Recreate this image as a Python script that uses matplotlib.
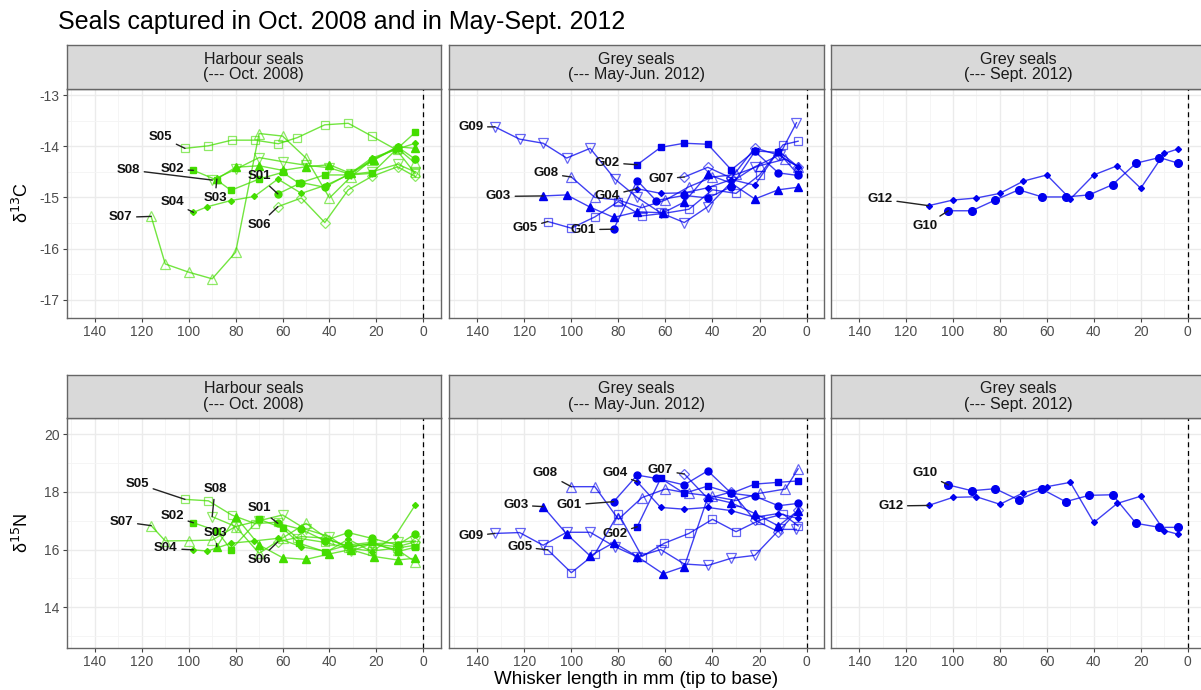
import matplotlib.pyplot as plt
from matplotlib.ticker import MultipleLocator

plt.rcParams['font.family'] = ['Liberation Sans', 'DejaVu Sans']
plt.rcParams['axes.unicode_minus'] = False

# position along the whisker (mm from base) and isotope values per seal
# harbour seals, Oct. 2008
S01_mm = [62, 52, 42, 32, 22, 11, 3.5]
S01_c = [-14.93, -14.71, -14.80, -14.55, -14.27, -14.01, -14.25]
S01_n = [16.91, 16.70, 16.31, 16.59, 16.39, 16.16, 16.54]

S02_mm = [98, 88, 82, 70, 60, 53, 42, 32, 22, 11, 3.5]
S02_c = [-14.47, -14.66, -14.86, -14.64, -14.51, -14.72, -14.56, -14.56, -14.53, -14.04, -13.73]
S02_n = [16.93, 16.65, 16.00, 17.05, 16.75, 16.22, 15.93, 16.16, 16.25, 15.93, 16.08]

S03_mm = [88, 80, 70, 60, 50, 40, 31, 21, 11, 3.5]
S03_c = [-14.64, -14.41, -14.38, -14.47, -14.40, -14.36, -14.53, -14.27, -14.01, -14.04]
S03_n = [16.10, 17.14, 16.16, 15.72, 15.66, 15.85, 16.00, 15.76, 15.64, 15.70]

S04_mm = [98, 92, 82, 72, 62, 52, 41, 32, 22, 12, 3.5]
S04_c = [-15.29, -15.18, -15.06, -14.98, -14.64, -14.92, -14.75, -14.56, -14.23, -14.07, -13.94]
S04_n = [15.99, 15.95, 16.22, 16.30, 16.39, 16.10, 15.93, 16.36, 15.93, 16.47, 17.54]

S05_mm = [101.6, 91.6, 81.7, 71.7, 61.8, 53.7, 42, 32, 22, 11.4, 3.5]
S05_c = [-14.04, -13.99, -13.88, -13.88, -13.95, -13.83, -13.58, -13.55, -13.80, -14.07, -14.53]
S05_n = [17.74, 17.69, 17.20, 16.90, 16.95, 16.40, 16.25, 16.05, 15.95, 16.05, 16.15]

S06_mm = [62, 52, 42, 32, 22, 11, 3.5]
S06_c = [-15.18, -15.01, -15.49, -14.85, -14.59, -14.40, -14.59]
S06_n = [16.27, 16.45, 16.40, 16.10, 16.20, 16.10, 16.27]

S07_mm = [116, 110, 100, 90, 80, 70, 60, 50, 40, 31, 22, 11, 3.5]
S07_c = [-15.37, -16.30, -16.46, -16.59, -16.07, -13.75, -13.80, -14.23, -15.01, -14.60, -14.27, -14.04, -14.33]
S07_n = [16.83, 16.30, 16.31, 16.33, 16.80, 15.87, 16.40, 16.91, 16.33, 16.10, 16.20, 15.99, 15.58]

S08_mm = [90, 80, 70, 60, 50, 40, 31, 22, 11, 3.5]
S08_c = [-14.66, -14.45, -14.22, -14.30, -14.37, -14.42, -14.55, -14.50, -14.35, -14.50]
S08_n = [17.14, 16.80, 17.00, 17.20, 16.70, 16.45, 15.95, 16.20, 16.25, 16.30]

# grey seals, May-Jun. 2012
G01_mm = [82, 72, 64, 52, 42, 32, 22, 12, 3.6]
G01_c = [-15.62, -14.67, -15.06, -14.96, -15.01, -14.79, -14.10, -14.52, -14.57]
G01_n = [17.66, 18.58, 18.47, 18.24, 18.73, 17.95, 17.85, 17.52, 17.60]

G02_mm = [72, 62, 52, 42, 32, 22, 12, 3.6]
G02_c = [-14.36, -14.02, -13.94, -13.96, -14.46, -14.09, -14.12, -14.55]
G02_n = [16.79, 18.47, 17.95, 18.20, 17.95, 18.27, 18.33, 18.38]

G03_mm = [112, 102, 92, 82, 72, 61, 52, 42, 32, 22, 12, 3.6]
G03_c = [-14.97, -14.95, -15.19, -15.39, -15.28, -15.30, -15.09, -14.55, -14.72, -15.03, -14.85, -14.80]
G03_n = [17.49, 16.54, 15.78, 16.24, 15.76, 15.16, 15.41, 17.81, 17.62, 17.25, 16.82, 17.35]

G04_mm = [72, 62, 52, 42, 32, 22, 12, 3.6]
G04_c = [-14.83, -14.92, -14.91, -14.81, -14.65, -14.76, -14.09, -14.40]
G04_n = [18.35, 17.46, 17.40, 17.46, 17.35, 17.12, 17.25, 17.08]

G05_mm = [110, 100, 90, 80, 70, 60.5, 50, 40, 30, 20, 10, 3.6]
G05_c = [-15.47, -15.60, -15.38, -15.08, -15.36, -15.31, -15.23, -14.85, -14.92, -14.56, -13.97, -13.90]
G05_n = [15.99, 15.20, 15.85, 17.25, 15.76, 16.22, 16.56, 17.05, 16.62, 17.02, 17.23, 16.82]

G07_mm = [52, 42, 32, 22, 12, 3.6]
G07_c = [-14.60, -14.41, -14.62, -14.03, -14.17, -14.40]
G07_n = [18.62, 17.77, 18.00, 17.02, 16.62, 17.37]

G08_mm = [100, 90, 80, 70, 60, 50, 40, 30, 20, 9, 3.6]
G08_c = [-14.60, -15.00, -15.05, -15.20, -15.05, -14.79, -14.60, -14.55, -14.38, -14.25, -14.40]
G08_n = [18.18, 18.18, 17.05, 17.80, 18.10, 17.95, 17.85, 17.70, 17.95, 18.10, 18.80]

G09_mm = [132.5, 122, 112, 102, 92, 81.5, 72, 62, 52, 42, 32, 22, 11.5, 4.3]
G09_c = [-13.62, -13.86, -13.94, -14.23, -14.04, -14.64, -15.00, -15.30, -15.49, -15.18, -14.70, -14.40, -14.17, -13.54]
G09_n = [16.56, 16.59, 16.15, 16.60, 16.60, 16.10, 15.75, 16.00, 15.50, 15.45, 15.70, 15.80, 16.70, 16.70]

# grey seals, Sept. 2012
G10_mm = [102, 92, 82, 72, 62, 52, 42, 32, 22, 12, 4]
G10_c = [-15.26, -15.26, -15.05, -14.85, -14.99, -14.99, -14.95, -14.75, -14.33, -14.22, -14.33]
G10_n = [18.24, 18.04, 18.11, 17.72, 18.09, 17.66, 17.88, 17.90, 16.91, 16.77, 16.77]

G12_mm = [110.4, 100, 90, 80, 70, 60, 50, 40, 30, 20, 10, 4]
G12_c = [-15.16, -15.05, -15.01, -14.92, -14.68, -14.56, -15.03, -14.56, -14.38, -14.82, -14.14, -14.05]
G12_n = [17.53, 17.81, 17.83, 17.57, 17.97, 18.18, 18.33, 16.94, 17.60, 17.85, 16.66, 16.53]

harbour = {"S01": (S01_mm, S01_c, S01_n), "S02": (S02_mm, S02_c, S02_n),
           "S03": (S03_mm, S03_c, S03_n), "S04": (S04_mm, S04_c, S04_n),
           "S05": (S05_mm, S05_c, S05_n), "S06": (S06_mm, S06_c, S06_n),
           "S07": (S07_mm, S07_c, S07_n), "S08": (S08_mm, S08_c, S08_n)}
grey_spring = {"G01": (G01_mm, G01_c, G01_n), "G02": (G02_mm, G02_c, G02_n),
               "G03": (G03_mm, G03_c, G03_n), "G04": (G04_mm, G04_c, G04_n),
               "G05": (G05_mm, G05_c, G05_n), "G07": (G07_mm, G07_c, G07_n),
               "G08": (G08_mm, G08_c, G08_n), "G09": (G09_mm, G09_c, G09_n)}
grey_autumn = {"G10": (G10_mm, G10_c, G10_n), "G12": (G12_mm, G12_c, G12_n)}

# marker, filled?, size
shapes = {
    "S01": ("o", True, 5), "S02": ("s", True, 4.5), "S03": ("^", True, 5.5), "S04": ("D", True, 3),
    "S05": ("s", False, 6), "S06": ("D", False, 5.5), "S07": ("^", False, 6.5), "S08": ("v", False, 6.5),
    "G01": ("o", True, 5), "G02": ("s", True, 4.5), "G03": ("^", True, 5.5), "G04": ("D", True, 3),
    "G05": ("s", False, 6), "G07": ("D", False, 5.5), "G08": ("^", False, 6.5), "G09": ("v", False, 6.5),
    "G10": ("o", True, 5.5), "G12": ("D", True, 3),
}

# where the seal labels sit (mm, value) in the carbon and nitrogen rows
label_c = {
    "S05": (112, -13.81), "S08": (125.7, -14.46), "S02": (107, -14.45), "S03": (88.8, -15.01),
    "S04": (107, -15.09), "S07": (129, -15.39), "S01": (70, -14.59), "S06": (70, -15.53),
    "G09": (142.7, -13.62), "G08": (110.8, -14.53), "G02": (84.8, -14.32), "G07": (62, -14.64),
    "G03": (131, -14.98), "G04": (84.8, -14.97), "G05": (119.7, -15.60), "G01": (95, -15.63),
    "G12": (131, -15.03), "G10": (112, -15.55),
}
label_n = {
    "S05": (121.9, 18.29), "S08": (88.8, 18.09), "S01": (70, 17.43), "S07": (128.6, 16.97),
    "S02": (107, 17.16), "S03": (88.8, 16.56), "S04": (109.7, 16.04), "S06": (70, 15.64),
    "G08": (111, 18.66), "G04": (81.5, 18.66), "G07": (62.2, 18.75), "G03": (123.6, 17.54),
    "G01": (100.9, 17.54), "G02": (81.5, 16.54), "G09": (142.7, 16.47), "G05": (122, 16.1),
    "G10": (112, 18.64), "G12": (126.5, 17.51),
}

groups = [(harbour, "#44DD00", "Harbour seals\n(--- Oct. 2008)"),
          (grey_spring, "#0000EE", "Grey seals\n(--- May-Jun. 2012)"),
          (grey_autumn, "#0000EE", "Grey seals\n(--- Sept. 2012)")]

W, H = 1201, 690
fig = plt.figure(figsize=(W / 100, H / 100), dpi=100)

cols = [(66.7, 440.7), (449, 824), (831, 1205)]
rows = [(89, 317.7, 45), (418, 647.7, 375)]


def px_axes(x0, x1, y0, y1):
    return fig.add_axes([x0 / W, 1 - y1 / H, (x1 - x0) / W, (y1 - y0) / H])


for r, (y0, y1, ys) in enumerate(rows):
    for c, (x0, x1) in enumerate(cols):
        seals, color, strip = groups[c]
        ax = px_axes(x0, x1, y0, y1)
        ax.set_xlim(152, -7.4)
        ax.xaxis.set_major_locator(MultipleLocator(20))
        ax.xaxis.set_minor_locator(MultipleLocator(10))
        if r == 0:
            ax.set_ylim(-17.35, -12.88)
            ax.yaxis.set_major_locator(MultipleLocator(1))
            ax.yaxis.set_minor_locator(MultipleLocator(0.5))
        else:
            ax.set_ylim(12.6, 20.56)
            ax.yaxis.set_major_locator(MultipleLocator(2))
            ax.yaxis.set_minor_locator(MultipleLocator(1))
        ax.grid(which="major", color="#ebebeb", lw=1.0)
        ax.grid(which="minor", color="#f4f4f4", lw=0.6)
        ax.set_axisbelow(True)
        for sp in ax.spines.values():
            sp.set_color("#666666")
            sp.set_linewidth(1.0)
        ax.tick_params(which="major", length=3, color="#444444", labelsize=10,
                       labelcolor="#4d4d4d", pad=2)
        ax.tick_params(which="minor", length=0)
        ax.set_xticks([140, 120, 100, 80, 60, 40, 20, 0])
        ax.set_xticklabels(["140", "120", "100", "80", "60", "40", "20", "0"])
        if c > 0:
            ax.tick_params(axis="y", left=False, labelleft=False)
        ax.axvline(0, color="black", ls=(0, (4, 3)), lw=0.9)

        labels = label_c if r == 0 else label_n
        for name, (mm, d13c, d15n) in seals.items():
            vals = d13c if r == 0 else d15n
            m, filled, ms = shapes[name]
            ax.plot(mm, vals, color=color, lw=1.0, alpha=0.75, zorder=2)
            if filled:
                ax.plot(mm, vals, ls="none", marker=m, ms=ms, color=color, zorder=3)
            else:
                ax.plot(mm, vals, ls="none", marker=m, ms=ms, mfc="none",
                        mec=color, mew=0.9, alpha=0.6, zorder=3)
            ax.annotate(name, xy=(mm[0], vals[0]), xytext=labels[name],
                        ha="center", va="center", fontsize=9.5, fontweight="bold",
                        color="#111111", zorder=5,
                        arrowprops=dict(arrowstyle="-", color="#222222", lw=1.0,
                                        shrinkA=1, shrinkB=0))

        # facet strip
        sax = px_axes(x0, x1, ys, y0)
        sax.set_facecolor("#d9d9d9")
        sax.set_xticks([])
        sax.set_yticks([])
        for sp in sax.spines.values():
            sp.set_color("#666666")
            sp.set_linewidth(1.0)
        sax.text(0.5, 0.5, strip, ha="center", va="center", fontsize=11.5,
                 color="#1a1a1a", linespacing=1.05, transform=sax.transAxes)

fig.text(58 / W, 1 - 22 / H, "Seals captured in Oct. 2008 and in May-Sept. 2012",
         fontsize=18, ha="left", va="center")
fig.text(22 / W, 1 - 203 / H, "δ$^{13}$C", rotation=90, fontsize=13,
         ha="center", va="center")
fig.text(22 / W, 1 - 533 / H, "δ$^{15}$N", rotation=90, fontsize=13,
         ha="center", va="center")
fig.text(636 / W, 1 - 679 / H, "Whisker length in mm (tip to base)", fontsize=13.5,
         ha="center", va="center")

fig.savefig("out.png", dpi=100)
